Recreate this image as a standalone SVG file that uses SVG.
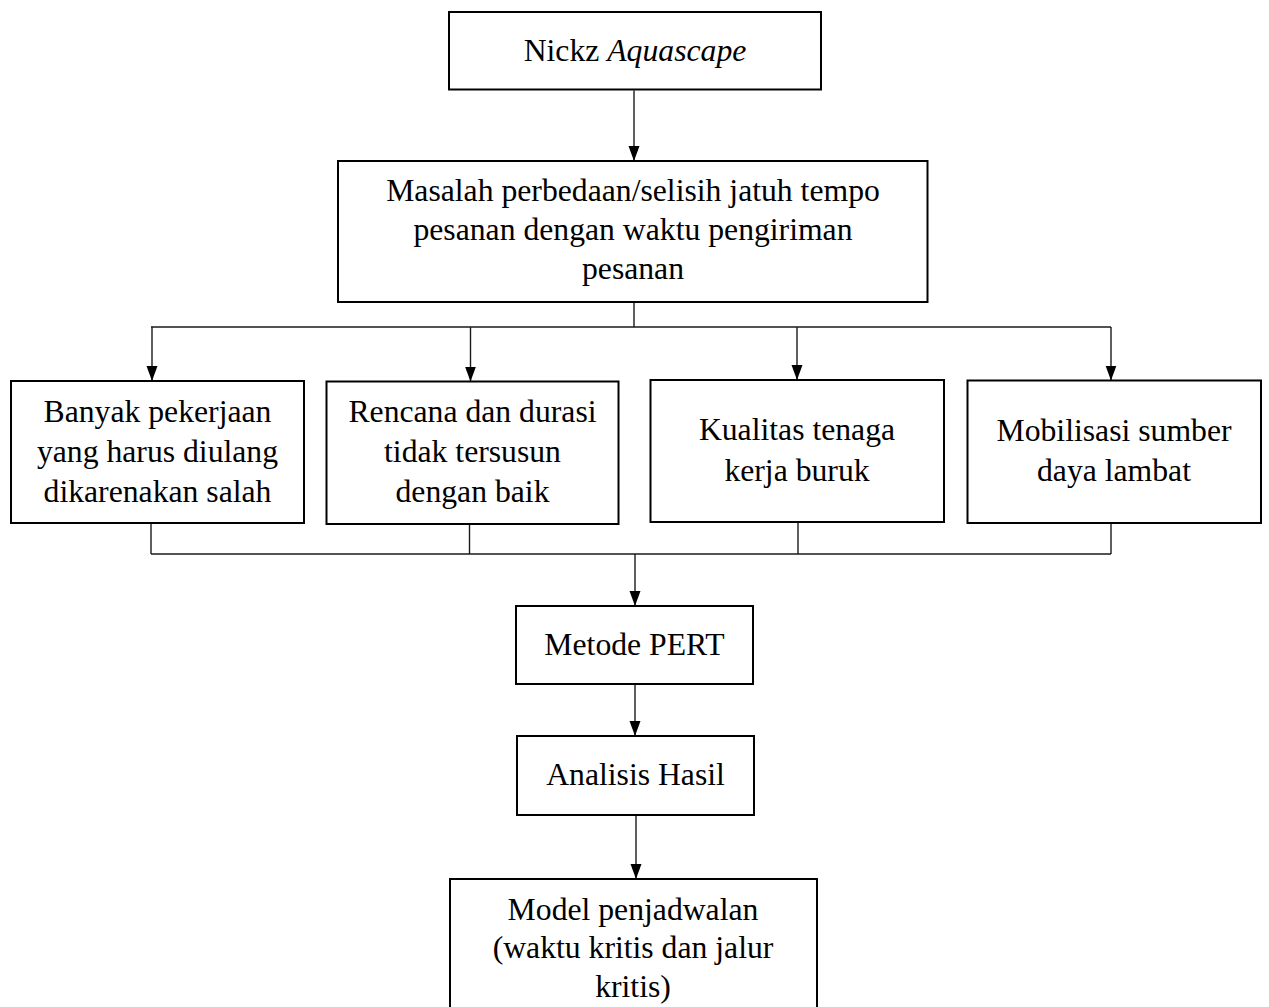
<svg xmlns="http://www.w3.org/2000/svg" width="1269" height="1007" viewBox="0 0 1269 1007">
<defs>
<marker id="arr" markerUnits="userSpaceOnUse" markerWidth="15" markerHeight="12" refX="15" refY="6" orient="auto">
<path d="M0,0.5 L15,6 L0,11.5 z" fill="#000"/>
</marker>
<style>
.box{fill:#fff;stroke:#000;stroke-width:2}
.t{font-family:"Liberation Serif","Times New Roman",serif;font-size:31.7px;fill:#000;text-anchor:middle}
.c{fill:none;stroke:#1a1a1a;stroke-width:1.4}
.a{marker-end:url(#arr)}
</style>
</defs>
<rect width="1269" height="1007" fill="#fff"/>
<g id="connectors">
<path class="c a" d="M634,90.5 V161"/>
<path class="c" d="M634,302 V327"/>
<path class="c" d="M151,327 H1111"/>
<path class="c a" d="M152,327 V381"/>
<path class="c a" d="M470.5,327 V381.5"/>
<path class="c a" d="M797,327 V380"/>
<path class="c a" d="M1111,327 V380.5"/>
<path class="c" d="M151,523 V554"/>
<path class="c" d="M469.5,524 V554"/>
<path class="c" d="M798,522 V554"/>
<path class="c" d="M1111,523 V554"/>
<path class="c" d="M151,554 H1111"/>
<path class="c a" d="M635,554 V606"/>
<path class="c a" d="M635,684 V736"/>
<path class="c a" d="M636,815 V879"/>
</g>
<g id="n-nickz">
<rect class="box" x="449" y="12" width="372" height="77.5"/>
<text class="t" x="635" y="61">Nickz <tspan font-style="italic">Aquascape</tspan></text>
</g>
<g id="n-masalah">
<rect class="box" x="338" y="161" width="589.5" height="141"/>
<text class="t" x="633" y="201">Masalah perbedaan/selisih jatuh tempo</text>
<text class="t" x="633" y="240">pesanan dengan waktu pengiriman</text>
<text class="t" x="633" y="279">pesanan</text>
</g>
<g id="n-banyak">
<rect class="box" x="11" y="381" width="293" height="142"/>
<text class="t" x="157.5" y="422">Banyak pekerjaan</text>
<text class="t" x="157.5" y="462">yang harus diulang</text>
<text class="t" x="157.5" y="502">dikarenakan salah</text>
</g>
<g id="n-rencana">
<rect class="box" x="326.5" y="381.5" width="292" height="142.5"/>
<text class="t" x="472.5" y="422">Rencana dan durasi</text>
<text class="t" x="472.5" y="462">tidak tersusun</text>
<text class="t" x="472.5" y="502">dengan baik</text>
</g>
<g id="n-kualitas">
<rect class="box" x="650.5" y="380" width="293.5" height="142"/>
<text class="t" x="797" y="440">Kualitas tenaga</text>
<text class="t" x="797" y="481">kerja buruk</text>
</g>
<g id="n-mobilisasi">
<rect class="box" x="967.5" y="380.5" width="293.5" height="142.5"/>
<text class="t" x="1114" y="441">Mobilisasi sumber</text>
<text class="t" x="1114" y="481">daya lambat</text>
</g>
<g id="n-pert">
<rect class="box" x="516" y="606" width="237" height="78"/>
<text class="t" x="634.5" y="655">Metode PERT</text>
</g>
<g id="n-analisis">
<rect class="box" x="517" y="736" width="237" height="79"/>
<text class="t" x="635.5" y="785">Analisis Hasil</text>
</g>
<g id="n-model">
<rect class="box" x="450" y="879" width="367" height="160"/>
<text class="t" x="633" y="920">Model penjadwalan</text>
<text class="t" x="633" y="958">(waktu kritis dan jalur</text>
<text class="t" x="633" y="997">kritis)</text>
</g>
</svg>
